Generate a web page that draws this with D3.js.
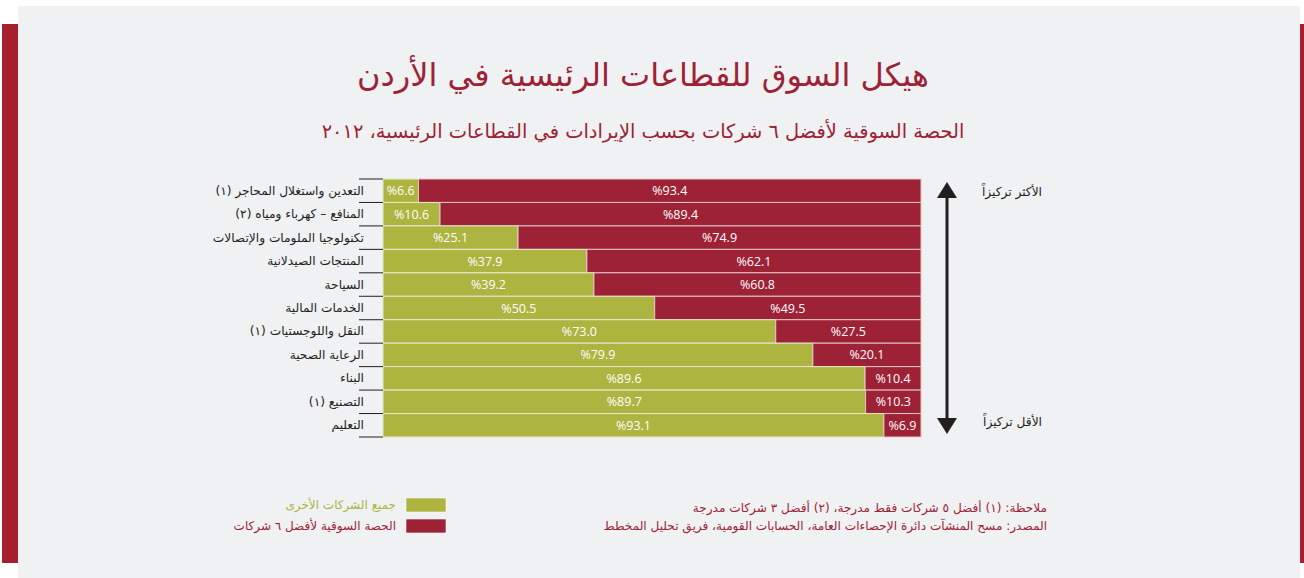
<!DOCTYPE html>
<html lang="ar">
<head>
<meta charset="utf-8">
<script src="https://cdn.jsdelivr.net/npm/d3@7"></script>
<style>
    html, body { margin: 0; padding: 0; background: #fff; }
    svg { display: block; }
</style>
</head>
<body>
<svg id="chart" width="1304" height="578"></svg>
<script>
// sectors, top to bottom
const categories = [
    "التعدين واستغلال المحاجر (١)",
    "المنافع – كهرباء ومياه (٢)",
    "تكنولوجيا الملومات والإتصالات",
    "المنتجات الصيدلانية",
    "السياحة",
    "الخدمات المالية",
    "النقل واللوجستيات (١)",
    "الرعاية الصحية",
    "البناء",
    "التصنيع (١)",
    "التعليم"
];
// share of all other companies (green)
const others = [6.6, 10.6, 25.1, 37.9, 39.2, 50.5, 73.0, 79.9, 89.6, 89.7, 93.1];
// share of top 6 companies (red)
const top6 = [93.4, 89.4, 74.9, 62.1, 60.8, 49.5, 27.5, 20.1, 10.4, 10.3, 6.9];

const legendLabels = ["جميع الشركات الأخرى", "الحصة السوقية لأفضل ٦ شركات"];

const cfg = {
    red: "#9d2236",
    green: "#adb43f",
    panel: "#f0f1f3",
    text: "#231f20",
    arabic: "'DejaVu Sans', 'Noto Sans', sans-serif",
    latin: "'Open Sans', 'DejaVu Sans', sans-serif",
};

const svg = d3.select("#chart");

// background panel + side strips
svg.append("rect").attr("x", 18).attr("y", 6).attr("width", 1282).attr("height", 572).attr("fill", cfg.panel);
svg.append("rect").attr("x", 2).attr("y", 24).attr("width", 16).attr("height", 539).attr("fill", "#a51f2d");
svg.append("rect").attr("x", 1300).attr("y", 24).attr("width", 4).attr("height", 539).attr("fill", "#a51f2d");

// titles
svg.append("text")
    .attr("x", 643).attr("y", 86)
    .attr("text-anchor", "middle")
    .attr("direction", "rtl")
    .attr("font-family", cfg.arabic)
    .attr("font-size", 32)
    .attr("fill", cfg.red)
    .text("هيكل السوق للقطاعات الرئيسية في الأردن");

svg.append("text")
    .attr("x", 643).attr("y", 138)
    .attr("text-anchor", "middle")
    .attr("direction", "rtl")
    .attr("font-family", cfg.arabic)
    .attr("font-size", 19.4)
    .attr("fill", cfg.red)
    .text("الحصة السوقية لأفضل ٦ شركات بحسب الإيرادات في القطاعات الرئيسية، ٢٠١٢");

// scales
const x = d3.scaleLinear().domain([0, 100]).range([383, 921]);
const y = d3.scaleBand().domain(categories).range([179, 437]).padding(0);

const rows = svg.append("g").selectAll("g")
    .data(categories)
    .join("g");

// green segment
rows.append("rect")
    .attr("x", x(0))
    .attr("y", d => y(d))
    .attr("width", (d, i) => x(others[i]) - x(0))
    .attr("height", y.bandwidth())
    .attr("fill", cfg.green)
    .attr("stroke", "#e6ead0")
    .attr("stroke-width", 1);

// red segment fills the rest of the row
rows.append("rect")
    .attr("x", (d, i) => x(others[i]))
    .attr("y", d => y(d))
    .attr("width", (d, i) => x(100) - x(others[i]))
    .attr("height", y.bandwidth())
    .attr("fill", cfg.red)
    .attr("stroke", "#e3c3c9")
    .attr("stroke-width", 1);

rows.append("text")
    .attr("x", (d, i) => (x(0) + x(others[i])) / 2)
    .attr("y", d => y(d) + y.bandwidth() / 2 + 4.5)
    .attr("text-anchor", "middle")
    .attr("font-family", cfg.latin)
    .attr("font-size", 12.5)
    .attr("fill", "#fff")
    .text((d, i) => "%" + others[i].toFixed(1));

rows.append("text")
    .attr("x", (d, i) => (x(others[i]) + x(100)) / 2)
    .attr("y", d => y(d) + y.bandwidth() / 2 + 4.5)
    .attr("text-anchor", "middle")
    .attr("font-family", cfg.latin)
    .attr("font-size", 12.5)
    .attr("fill", "#fff")
    .text((d, i) => "%" + top6[i].toFixed(1));

// category labels + separator ticks
rows.append("text")
    .attr("x", 364)
    .attr("y", d => y(d) + y.bandwidth() / 2 + 4)
    .attr("text-anchor", "start")
    .attr("direction", "rtl")
    .attr("font-family", cfg.arabic)
    .attr("font-size", 12.2)
    .attr("fill", cfg.text)
    .text(d => d);

const ticks = categories.map(d => y(d)).concat([y(categories[categories.length - 1]) + y.bandwidth()]);
svg.append("g").selectAll("line")
    .data(ticks)
    .join("line")
    .attr("x1", 359).attr("x2", 383)
    .attr("y1", d => d).attr("y2", d => d)
    .attr("stroke", "#231f20")
    .attr("stroke-width", 1);

// concentration arrow
const arrowX = 947;
svg.append("line")
    .attr("x1", arrowX).attr("x2", arrowX)
    .attr("y1", 194).attr("y2", 420)
    .attr("stroke", "#231f20").attr("stroke-width", 3);
svg.append("path")
    .attr("d", `M${arrowX},182 L${arrowX - 10},198 L${arrowX + 10},198 Z`)
    .attr("fill", "#231f20");
svg.append("path")
    .attr("d", `M${arrowX},434 L${arrowX - 10},418 L${arrowX + 10},418 Z`)
    .attr("fill", "#231f20");

svg.append("text")
    .attr("x", 1042).attr("y", 196)
    .attr("text-anchor", "start").attr("direction", "rtl")
    .attr("font-family", cfg.arabic).attr("font-size", 12.2)
    .attr("fill", cfg.text)
    .text("الأكثر تركيزاً");
svg.append("text")
    .attr("x", 1042).attr("y", 426)
    .attr("text-anchor", "start").attr("direction", "rtl")
    .attr("font-family", cfg.arabic).attr("font-size", 12.2)
    .attr("fill", cfg.text)
    .text("الأقل تركيزاً");

// legend
const legendColors = [cfg.green, cfg.red];
const legend = svg.append("g").selectAll("g")
    .data(legendLabels)
    .join("g")
    .attr("transform", (d, i) => `translate(0, ${498 + i * 21})`);
legend.append("rect")
    .attr("x", 406).attr("y", 0)
    .attr("width", 40).attr("height", 14)
    .attr("fill", (d, i) => legendColors[i])
    .attr("stroke", "#fff").attr("stroke-width", 0.6);
legend.append("text")
    .attr("x", 396).attr("y", 11)
    .attr("text-anchor", "start").attr("direction", "rtl")
    .attr("font-family", cfg.arabic).attr("font-size", 12)
    .attr("fill", (d, i) => legendColors[i])
    .text(d => d);

// notes
svg.append("text")
    .attr("x", 1047).attr("y", 512)
    .attr("text-anchor", "start").attr("direction", "rtl")
    .attr("font-family", cfg.arabic).attr("font-size", 12.1)
    .attr("fill", cfg.red)
    .text("ملاحظة: (١) أفضل ٥ شركات فقط مدرجة، (٢) أفضل ٣ شركات مدرجة");
svg.append("text")
    .attr("x", 1047).attr("y", 530)
    .attr("text-anchor", "start").attr("direction", "rtl")
    .attr("font-family", cfg.arabic).attr("font-size", 12.1)
    .attr("fill", cfg.red)
    .text("المصدر: مسح المنشآت دائرة الإحصاءات العامة، الحسابات القومية، فريق تحليل المخطط");
</script>
</body>
</html>
